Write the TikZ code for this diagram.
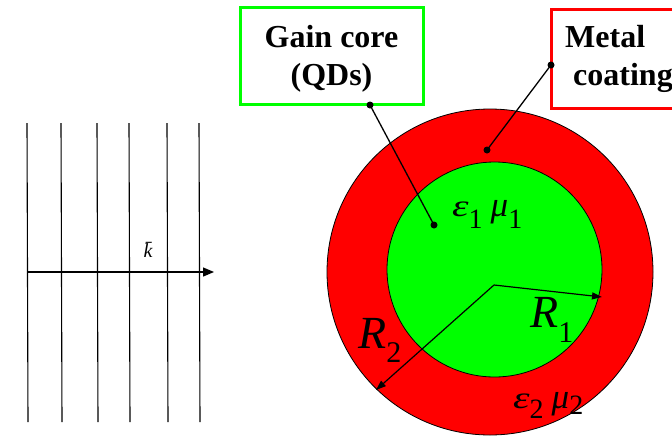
\documentclass[tikz,border=0pt]{standalone}
\usepackage{fontspec}
\setmainfont{Liberation Serif}
\usetikzlibrary{arrows.meta}
% #1 symbol, #2 index, #3 symbol size, #4 index size, #5 horizontal stretch, #6 index drop
\newcommand{\symsub}[6]{\scalebox{#5}[1]{\fontsize{#3}{#3}\selectfont\itshape #1}\raisebox{-#6}{\fontsize{#4}{#4}\selectfont #2}}
\begin{document}
\begin{tikzpicture}[x=1pt,y=-1pt,
  wave/.style={line width=1.1pt},
  lbox/.style={draw, line width=3pt, fill=white, inner sep=0pt},
  boxtext/.style={inner sep=0pt, font=\fontsize{32}{38}\selectfont\bfseries},
  leader/.style={line width=1.3pt},
  dotmark/.style={circle, fill=black, inner sep=0pt, minimum size=7pt},
  radarrow/.style={line width=1.2pt, -{Triangle[length=10pt,width=7pt]}},
  sym/.style={inner sep=0pt, anchor=base west}]
\useasboundingbox (0,0) rectangle (672,437);
\clip (0,0) rectangle (672,437);
\fill[white] (0,0) rectangle (672,437);
% plane wave
\foreach \x in {27,61,97,129,167,199} \draw[wave] (\x,123) -- (\x+1,422);
\coordinate (kstart) at (27,272);
\coordinate (kend) at (214,272);
\draw[line width=1.3pt, -{Triangle[length=11pt,width=9pt]}] (kstart) -- (kend);
\node[inner sep=0pt] (klabel) at (148,250) {\fontsize{20}{20}\selectfont\itshape \=k};
% sphere
\draw[fill=red, line width=0.8pt] (490,272) circle[radius=163];
\draw[fill=green, line width=0.8pt] (494.5,269.5) circle[radius=107.5];
\coordinate (ctr) at (494,285);
\coordinate (r1end) at (602,297);
\coordinate (r2end) at (376,390);
\draw[radarrow] (ctr) -- (r1end);
\draw[radarrow] (ctr) -- (r2end);
\node[sym] (R1) at (530,327) {\symsub{R}{1}{46}{30}{1}{15pt}};
\node[sym] (R2) at (358,348) {\symsub{R}{2}{46}{30}{1}{14pt}};
\node[sym] (em1) at (452,216) {\symsub{ε}{1}{31}{28}{1.35}{12pt}\hspace{8pt}\symsub{μ}{1}{35}{28}{1}{12pt}};
\node[sym] (em2) at (513,408) {\symsub{ε}{2}{31}{28}{1.35}{10pt}\hspace{8pt}\symsub{μ}{2}{35}{28}{1}{6pt}};
% label boxes
\node[lbox, draw=green, minimum width=183pt, minimum height=97pt] (gain) at (331.5,55.5) {};
\node[boxtext, anchor=base] (gain1) at (331.5,47) {Gain core};
\node[boxtext, anchor=base] (gain2) at (331.5,85) {(QDs)};
\node[lbox, draw=red, minimum width=160pt, minimum height=99pt, anchor=north west] (metal) at (550,8) {};
\node[boxtext, anchor=base west] (metal1) at (565,47) {Metal};
\node[boxtext, anchor=base west] (metal2) at (573,85) {coating};
% leaders
\node[dotmark] (gdot) at (370,105) {};
\node[dotmark] (gtip) at (434,225) {};
\node[dotmark] (mdot) at (551,65) {};
\node[dotmark] (mtip) at (487,150) {};
\draw[leader] (gdot.center) -- (gtip.center);
\draw[leader] (mdot.center) -- (mtip.center);
\end{tikzpicture}
\end{document}
